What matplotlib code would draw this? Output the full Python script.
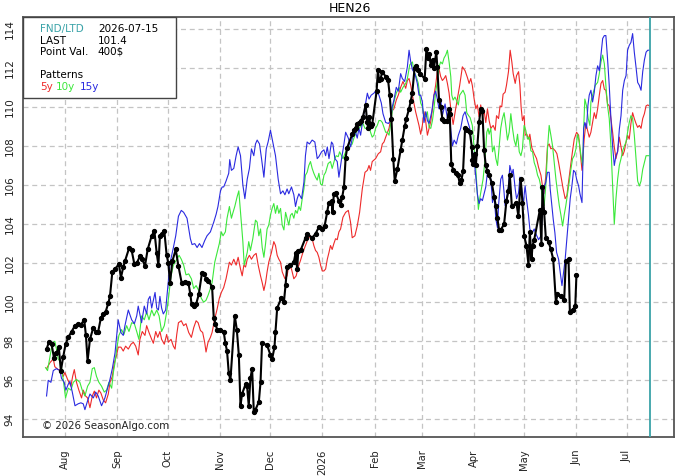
import matplotlib
matplotlib.use("Agg")
import matplotlib.pyplot as plt
from matplotlib.patches import Rectangle
import pandas as pd

# ---------------- data ----------------
season_start = "2025-08-01"      # day 0 of the day offsets below
title = "HEN26"
fnd_ltd = "2026-07-15"
last_price = "101.4"
point_val = "400$"
y_ticks = [94, 96, 98, 100, 102, 104, 106, 108, 110, 112, 114]
month_ticks = ["2025-08-01", "2025-09-01", "2025-10-01", "2025-11-01", "2025-12-01",
               "2026-01-01", "2026-02-01", "2026-03-01", "2026-04-01", "2026-05-01",
               "2026-06-01", "2026-07-01"]
month_labels = ["Aug", "Sep", "Oct", "Nov", "Dec", "2026", "Feb", "Mar", "Apr",
                "May", "Jun", "Jul"]
x_range = ["2025-07-07", "2026-07-29"]
y_range = [93.1, 114.6]

# current contract (day offset, price)
current = [
    (-11.0, 97.6), (-9.6, 97.95), (-8.0, 97.85), (-6.6, 97.15), (-5.1, 97.4), (-3.7, 97.7),
    (-2.5, 96.5), (-1.1, 97.2), (0.3, 97.85), (1.9, 98.2), (3.9, 98.5), (5.9, 98.8),
    (7.8, 98.9), (9.4, 98.85), (11.4, 99.1), (12.4, 98.3), (13.4, 97.0), (14.8, 98.1),
    (16.8, 98.7), (18.2, 98.5), (19.7, 98.5), (21.3, 99.2), (22.7, 99.4), (24.1, 99.5),
    (25.7, 99.95), (26.7, 100.3), (28.1, 101.55), (29.7, 101.7), (32.0, 101.95), (33.2, 101.25),
    (34.6, 101.8), (35.6, 102.1), (38.0, 102.75), (39.6, 102.65), (41.2, 101.95), (42.6, 102.0),
    (44.5, 102.35), (45.9, 102.2), (47.5, 101.85), (49.1, 102.7), (51.5, 103.4), (53.1, 103.65),
    (54.5, 102.5), (55.5, 101.9), (56.4, 103.4), (57.8, 103.5), (59.0, 103.65), (60.4, 102.4),
    (61.4, 102.0), (62.4, 101.0), (63.8, 102.1), (65.8, 102.7), (67.4, 101.85), (69.3, 101.0),
    (71.3, 101.05), (73.3, 101.0), (74.5, 100.4), (75.2, 99.9), (76.5, 99.8), (77.9, 99.9),
    (79.5, 100.4), (81.4, 101.5), (82.8, 101.45), (83.8, 101.2), (85.0, 101.1), (87.4, 100.8),
    (88.4, 99.2), (89.4, 98.9), (90.4, 98.6), (92.4, 98.6), (94.3, 98.5), (95.3, 97.9),
    (96.3, 97.5), (97.3, 96.4), (98.3, 96.0), (100.9, 99.3), (102.1, 98.6), (103.3, 97.3),
    (104.3, 94.7), (105.2, 95.3), (107.3, 95.8), (108.2, 95.7), (109.2, 94.7), (110.2, 96.1),
    (111.2, 96.6), (112.2, 94.4), (113.2, 94.5), (115.2, 94.9), (116.2, 95.9), (117.1, 97.9),
    (120.1, 97.8), (122.1, 97.3), (123.1, 97.1), (124.5, 97.7), (125.1, 98.5), (126.1, 99.7),
    (128.5, 100.2), (130.1, 100.0), (131.1, 100.9), (132.0, 101.8), (134.0, 101.9), (136.0, 102.05),
    (137.0, 102.5), (138.0, 101.7), (138.6, 102.6), (140.0, 102.65), (143.0, 103.3), (143.9, 103.5),
    (146.9, 103.3), (148.9, 103.5), (150.9, 103.85), (152.9, 103.75), (154.3, 103.9), (155.8, 104.6),
    (156.8, 105.1), (158.4, 105.2), (159.0, 104.6), (159.8, 105.55), (160.8, 105.6), (162.8, 105.2),
    (163.8, 105.0), (164.8, 105.4), (165.8, 105.9), (166.8, 107.4), (167.7, 107.9), (170.7, 108.6),
    (171.7, 108.8), (172.7, 108.9), (173.7, 109.1), (174.7, 109.15), (175.7, 109.3), (177.1, 109.5),
    (178.7, 110.1), (179.6, 109.2), (180.2, 108.9), (180.7, 109.5), (181.7, 109.0), (182.6, 109.1),
    (185.2, 110.8), (186.0, 111.9), (186.6, 111.4), (187.6, 111.45), (188.6, 111.8), (190.6, 111.55),
    (192.0, 111.4), (193.0, 110.6), (194.0, 109.4), (195.1, 107.35), (196.0, 106.2), (197.5, 106.8),
    (199.5, 107.8), (200.5, 108.3), (201.9, 109.0), (202.9, 109.4), (204.5, 109.9), (205.5, 110.3),
    (206.4, 110.7), (207.8, 112.0), (208.8, 112.1), (209.8, 111.9), (211.0, 111.7), (213.8, 111.45),
    (214.8, 112.95), (215.8, 112.5), (216.4, 112.7), (217.4, 112.15), (218.8, 112.4), (219.3, 112.0),
    (220.7, 112.8), (221.3, 112.05), (222.3, 110.35), (223.3, 110.0), (224.3, 109.4), (225.3, 109.3),
    (227.3, 109.3), (228.3, 109.9), (228.7, 109.65), (229.6, 107.1), (230.8, 106.75), (232.3, 106.6),
    (233.6, 106.5), (234.6, 106.1), (235.6, 106.25), (236.6, 106.7), (237.8, 108.9), (239.2, 108.8),
    (240.6, 108.7), (241.8, 107.95), (242.1, 107.3), (242.7, 107.1), (243.5, 107.6), (244.2, 107.0),
    (245.1, 108.0), (246.1, 109.2), (247.1, 109.9), (248.1, 109.8), (249.1, 107.8), (250.1, 107.0),
    (251.1, 106.7), (252.1, 106.5), (253.7, 106.1), (255.1, 105.4), (256.1, 104.9), (257.0, 104.3),
    (258.0, 103.7), (259.0, 103.7), (261.0, 104.0), (262.4, 105.2), (263.6, 105.7), (264.4, 106.5),
    (265.6, 104.9), (268.3, 105.1), (269.5, 104.4), (270.9, 106.3), (271.9, 105.1), (272.9, 103.4),
    (274.3, 102.9), (275.5, 101.9), (276.3, 103.6), (277.3, 102.2), (277.9, 102.9), (278.9, 103.2),
    (282.2, 104.7), (283.2, 103.0), (283.8, 105.9), (284.8, 104.6), (285.8, 103.3), (287.4, 103.1),
    (288.8, 102.7), (290.2, 102.2), (291.8, 100.0), (292.7, 100.4), (294.8, 100.3), (296.7, 100.1),
    (297.7, 102.1), (299.3, 102.2), (300.1, 99.5), (301.7, 99.6), (303.3, 99.8), (304.0, 101.4),
]

# 5-year seasonal pattern
pattern_5y = [
    (-11.0, 96.6), (-9.0, 96.9), (-7.0, 97.1), (-6.1, 96.7), (-4.1, 96.55), (-2.5, 96.55),
    (-1.1, 96.2), (-0.1, 96.4), (1.5, 96.05), (3.5, 95.7), (4.5, 96.2), (5.5, 96.55),
    (6.8, 95.9), (8.2, 95.5), (9.8, 95.1), (10.8, 95.5), (12.2, 95.2), (13.4, 95.1),
    (14.8, 94.6), (16.2, 95.2), (17.4, 95.45), (18.7, 95.1), (20.1, 95.5), (21.3, 95.35),
    (22.7, 95.0), (24.1, 94.85), (25.7, 95.3), (26.7, 95.9), (28.1, 96.2), (29.3, 96.9),
    (30.7, 97.3), (31.6, 97.7), (33.2, 97.7), (34.6, 97.5), (36.0, 97.75), (37.6, 97.6),
    (39.2, 97.85), (40.6, 97.95), (42.0, 97.75), (43.5, 97.3), (44.5, 98.1), (45.9, 98.5),
    (47.5, 98.3), (48.5, 98.8), (49.9, 98.45), (51.5, 98.1), (52.5, 97.9), (53.9, 98.5),
    (55.1, 98.2), (56.4, 98.5), (57.4, 98.1), (59.0, 97.85), (60.4, 98.35), (61.4, 97.95),
    (63.0, 98.1), (64.4, 97.75), (65.4, 97.6), (66.4, 98.35), (67.4, 98.95), (69.1, 99.05),
    (70.5, 98.8), (71.9, 98.9), (73.5, 98.45), (75.1, 98.2), (76.5, 98.7), (77.9, 99.05),
    (79.1, 98.95), (80.5, 98.55), (81.8, 98.45), (83.0, 97.95), (83.8, 97.45), (85.0, 97.95),
    (86.4, 98.2), (87.4, 98.45), (89.0, 99.15), (90.4, 99.65), (91.7, 100.2), (92.9, 100.5),
    (94.3, 100.75), (95.7, 101.2), (96.9, 101.7), (97.7, 102.05), (98.9, 101.9), (100.3, 102.2),
    (101.7, 101.9), (102.9, 102.3), (104.3, 101.7), (105.3, 101.35), (106.3, 101.9), (107.3, 101.8),
    (108.3, 102.2), (109.6, 102.4), (110.8, 102.2), (112.2, 102.4), (113.6, 102.5), (114.8, 101.9),
    (116.2, 101.35), (117.2, 101.0), (118.2, 100.6), (119.2, 101.0), (120.1, 101.55), (121.1, 102.05),
    (122.7, 102.55), (124.1, 103.1), (125.1, 102.9), (126.1, 102.4), (127.1, 102.2), (128.1, 102.05),
    (129.1, 101.55), (130.7, 101.2), (132.0, 101.35), (133.0, 101.9), (134.6, 101.7), (136.0, 101.2),
    (137.4, 101.35), (138.6, 101.8), (140.0, 102.15), (141.4, 102.55), (142.9, 102.9), (144.5, 103.25),
    (145.9, 103.4), (146.9, 103.25), (147.9, 102.9), (148.9, 102.65), (149.9, 102.55), (150.9, 102.3),
    (151.9, 101.9), (152.9, 101.6), (153.9, 101.6), (154.9, 101.7), (155.9, 102.2), (156.9, 102.55),
    (157.8, 102.9), (158.8, 102.7), (159.8, 103.0), (160.8, 103.25), (161.8, 103.2), (162.8, 103.6),
    (163.8, 103.75), (165.2, 104.35), (166.8, 104.6), (168.4, 104.7), (169.7, 104.1), (170.7, 103.3),
    (172.3, 103.4), (173.7, 103.9), (175.1, 104.6), (176.7, 105.8), (178.3, 106.65), (179.7, 106.75),
    (180.7, 107.0), (181.6, 106.75), (182.6, 107.2), (184.6, 107.35), (186.2, 107.6), (187.6, 107.7),
    (188.6, 108.1), (189.6, 108.2), (190.6, 108.45), (192.6, 108.9), (193.6, 109.4), (194.5, 109.8),
    (195.5, 109.9), (196.9, 110.35), (198.1, 110.6), (199.5, 111.0), (200.9, 111.3), (202.5, 110.95),
    (203.5, 111.35), (204.5, 111.45), (205.5, 111.1), (206.9, 110.4), (208.4, 109.75), (209.4, 109.4),
    (210.4, 109.05), (211.4, 108.6), (212.4, 109.05), (213.4, 109.75), (214.4, 109.25), (215.4, 108.55),
    (216.4, 108.9), (217.4, 109.25), (218.4, 109.9), (219.3, 110.6), (220.3, 111.1), (221.3, 111.8),
    (222.3, 111.95), (223.3, 111.55), (224.3, 111.35), (225.3, 111.45), (226.3, 111.6), (227.3, 111.2),
    (228.3, 110.7), (229.3, 109.9), (230.7, 109.1), (232.0, 109.8), (233.2, 110.4), (234.6, 111.1),
    (236.2, 112.05), (237.8, 111.85), (239.2, 111.5), (240.2, 111.2), (241.2, 111.45), (242.1, 111.1),
    (243.2, 110.4), (244.2, 109.9), (245.1, 110.1), (246.1, 109.5), (247.1, 110.1), (248.1, 109.55),
    (249.1, 109.8), (250.1, 109.2), (251.1, 109.9), (252.1, 109.3), (253.1, 108.9), (254.5, 109.05),
    (255.7, 108.8), (256.5, 109.55), (257.7, 109.4), (258.6, 110.05), (259.6, 110.0), (260.4, 110.65),
    (261.6, 110.75), (262.4, 111.1), (263.6, 111.8), (264.6, 112.9), (265.6, 112.3), (266.4, 111.7),
    (267.6, 111.2), (268.4, 111.6), (269.6, 111.8), (270.4, 111.1), (271.1, 110.0), (271.9, 109.3),
    (272.9, 109.55), (273.5, 108.55), (274.5, 108.6), (275.5, 108.35), (276.3, 108.6), (277.5, 107.9),
    (278.9, 107.6), (280.3, 107.35), (281.5, 106.9), (282.9, 106.5), (283.8, 105.95), (284.8, 105.55),
    (285.8, 106.5), (286.8, 108.0), (287.8, 108.1), (288.8, 107.85), (289.8, 107.9), (291.4, 107.75),
    (292.4, 107.6), (293.4, 107.15), (294.4, 106.65), (295.4, 106.15), (296.1, 105.8), (297.3, 105.3),
    (298.3, 105.45), (299.3, 106.15), (300.7, 107.1), (301.7, 107.75), (302.7, 108.35), (304.1, 108.7),
    (305.3, 108.55), (306.1, 107.85), (307.3, 106.75), (308.1, 107.75), (308.6, 108.35), (309.6, 109.15),
    (310.6, 108.8), (311.6, 108.45), (312.6, 108.7), (313.6, 109.2), (314.6, 109.7), (315.6, 109.4),
    (316.6, 109.9), (317.6, 110.6), (318.6, 111.2), (319.6, 111.35), (320.6, 110.9), (321.5, 110.85),
    (322.5, 110.15), (323.5, 110.05), (324.5, 109.4), (325.5, 108.7), (326.5, 107.95), (327.5, 107.35),
    (328.5, 107.75), (329.5, 108.45), (330.5, 107.95), (331.5, 107.5), (332.5, 107.75), (333.5, 108.2),
    (334.4, 108.55), (335.4, 108.35), (336.4, 109.15), (337.4, 109.7), (338.4, 109.4), (339.4, 109.15),
    (340.4, 108.95), (341.4, 109.05), (342.4, 108.9), (343.4, 109.4), (344.4, 109.65), (345.4, 110.05),
    (346.4, 110.1), (347.3, 110.05),
]

# 10-year seasonal pattern
pattern_10y = [
    (-11.6, 96.65), (-10.4, 96.5), (-9.0, 97.2), (-8.0, 97.7), (-7.0, 97.95), (-6.1, 98.0),
    (-5.1, 97.6), (-4.1, 97.1), (-2.5, 96.9), (-1.1, 96.05), (0.3, 95.1), (1.9, 95.6),
    (3.5, 95.5), (4.9, 95.9), (6.8, 96.05), (8.8, 95.9), (10.2, 95.5), (11.8, 95.2),
    (13.4, 95.7), (14.8, 95.9), (16.2, 96.6), (17.4, 96.65), (18.7, 96.2), (20.1, 95.9),
    (21.7, 95.7), (23.3, 95.4), (24.7, 95.5), (26.1, 95.9), (27.7, 95.6), (28.7, 96.4),
    (29.7, 96.9), (30.7, 97.6), (32.0, 98.3), (33.6, 98.6), (35.0, 98.35), (36.6, 98.8),
    (38.0, 98.5), (39.6, 98.95), (41.2, 98.9), (42.6, 98.5), (43.9, 98.1), (45.5, 99.3),
    (47.1, 99.1), (48.5, 99.5), (49.9, 99.1), (51.5, 99.6), (52.9, 99.3), (54.5, 99.6),
    (55.9, 99.3), (57.4, 98.5), (59.0, 98.8), (60.4, 99.5), (61.4, 100.15), (63.0, 101.35),
    (64.4, 101.9), (66.4, 102.2), (67.8, 102.4), (69.1, 102.2), (70.5, 101.9), (71.9, 101.4),
    (73.5, 101.45), (75.1, 101.2), (76.5, 100.7), (77.9, 100.85), (79.5, 100.6), (81.0, 100.2),
    (82.4, 100.0), (83.8, 100.1), (85.0, 100.35), (86.4, 100.7), (87.4, 101.0), (89.0, 102.05),
    (90.4, 102.55), (91.7, 103.0), (92.9, 103.6), (93.9, 103.4), (95.3, 103.6), (96.3, 104.3),
    (97.7, 104.9), (98.9, 104.3), (99.7, 104.55), (100.9, 104.9), (102.3, 105.4), (103.3, 105.7),
    (104.3, 104.6), (105.7, 103.1), (106.5, 101.9), (107.3, 102.2), (108.3, 102.55), (109.2, 103.1),
    (110.2, 102.65), (111.6, 103.25), (113.2, 104.2), (114.2, 104.1), (115.2, 103.4), (116.2, 103.75),
    (117.2, 102.8), (118.2, 102.3), (119.2, 103.0), (120.1, 103.75), (121.1, 103.95), (122.1, 104.45),
    (123.1, 104.8), (124.1, 105.05), (125.1, 104.55), (126.1, 104.95), (127.1, 104.55), (128.1, 104.8),
    (129.1, 103.95), (130.1, 103.7), (131.1, 104.6), (132.0, 104.3), (133.0, 103.95), (134.0, 104.45),
    (135.0, 104.55), (136.0, 104.3), (137.0, 104.7), (138.0, 104.55), (139.0, 104.9), (140.0, 104.7),
    (141.0, 105.3), (142.0, 105.8), (142.9, 106.5), (143.9, 106.65), (144.9, 107.0), (145.9, 107.2),
    (146.9, 106.85), (147.9, 106.6), (148.9, 106.4), (149.9, 106.25), (150.9, 106.6), (151.9, 106.05),
    (152.9, 106.0), (153.9, 106.5), (154.9, 106.65), (156.4, 107.1), (157.8, 107.2), (158.8, 106.85),
    (160.4, 107.35), (161.2, 107.5), (162.4, 107.45), (163.2, 107.7), (165.2, 107.35), (166.8, 107.7),
    (167.8, 107.85), (169.1, 107.95), (170.7, 108.1), (171.7, 108.4), (173.1, 108.7), (174.7, 108.9),
    (176.3, 109.05), (177.1, 109.15), (178.3, 108.9), (179.7, 108.9), (180.7, 109.0), (181.6, 108.7),
    (182.6, 108.45), (183.6, 108.55), (184.6, 108.9), (185.6, 109.05), (186.6, 109.3), (187.6, 109.3),
    (188.6, 109.2), (189.6, 108.95), (190.6, 108.7), (191.6, 108.7), (192.6, 108.55), (193.6, 109.15),
    (194.5, 109.75), (195.5, 110.25), (196.9, 110.7), (198.5, 111.0), (199.5, 110.75), (200.9, 111.0),
    (202.5, 111.2), (203.5, 111.45), (204.9, 112.15), (206.5, 112.3), (207.4, 111.8), (208.8, 111.55),
    (210.0, 111.2), (211.4, 110.2), (212.4, 110.0), (213.4, 109.5), (214.4, 109.5), (215.4, 109.75),
    (216.4, 108.95), (217.4, 108.9), (218.4, 109.3), (219.3, 109.9), (220.3, 110.75), (221.3, 111.3),
    (222.3, 112.05), (223.3, 112.3), (224.3, 112.2), (225.3, 112.5), (226.3, 112.65), (227.3, 112.9),
    (228.3, 112.3), (229.3, 111.55), (229.9, 110.6), (230.7, 110.35), (231.8, 110.5), (232.6, 110.35),
    (233.8, 110.1), (234.6, 110.6), (235.8, 110.75), (236.6, 110.85), (237.8, 110.6), (238.8, 109.7),
    (239.9, 109.55), (240.8, 109.45), (242.1, 109.05), (243.2, 107.85), (244.2, 106.8), (245.1, 105.6),
    (245.7, 104.75), (246.5, 105.3), (248.5, 106.3), (249.7, 107.35), (250.7, 108.7), (251.5, 108.9),
    (252.1, 108.6), (253.1, 108.9), (254.1, 107.7), (255.1, 108.0), (256.1, 107.35), (257.1, 107.0),
    (258.1, 108.0), (259.0, 108.9), (260.0, 109.4), (261.0, 109.7), (262.0, 109.05), (263.0, 108.3),
    (264.0, 108.7), (265.0, 109.65), (266.0, 108.9), (267.0, 108.3), (268.0, 108.0), (269.0, 108.6),
    (270.0, 107.7), (271.0, 107.5), (271.9, 107.85), (272.9, 109.05), (273.9, 108.8), (274.9, 108.35),
    (275.9, 108.45), (276.9, 107.75), (277.9, 107.7), (278.9, 107.15), (279.9, 106.9), (280.9, 106.5),
    (281.9, 106.3), (282.9, 105.9), (283.8, 105.3), (284.8, 104.95), (285.8, 105.95), (286.8, 107.85),
    (287.8, 109.05), (288.8, 108.55), (289.8, 108.0), (290.8, 107.15), (291.8, 106.3), (292.8, 105.6),
    (293.8, 104.95), (294.8, 104.45), (295.8, 103.9), (296.7, 104.45), (297.7, 104.95), (299.7, 106.15),
    (300.7, 106.8), (301.7, 107.35), (302.7, 107.5), (303.7, 107.85), (304.7, 108.6), (305.7, 108.2),
    (306.7, 107.5), (307.7, 107.0), (308.3, 108.9), (309.0, 110.4), (310.0, 110.05), (311.0, 109.4),
    (312.0, 109.05), (312.6, 110.25), (313.6, 110.6), (315.2, 111.1), (316.6, 111.25), (317.6, 111.7),
    (318.6, 112.3), (319.6, 112.65), (320.6, 112.2), (321.5, 111.1), (322.5, 110.05), (323.5, 109.4),
    (324.5, 108.0), (325.5, 105.95), (326.5, 104.0), (327.5, 105.3), (328.5, 106.3), (329.5, 107.0),
    (330.5, 107.35), (331.5, 107.75), (332.5, 108.0), (333.5, 108.2), (334.4, 108.7), (335.4, 109.2),
    (336.4, 109.55), (337.4, 109.4), (338.4, 108.55), (339.4, 107.35), (340.4, 106.2), (341.4, 105.95),
    (342.4, 106.2), (343.4, 106.8), (344.4, 107.15), (345.4, 107.5), (346.4, 107.5), (347.3, 107.5),
]

# 15-year seasonal pattern
pattern_15y = [
    (-11.0, 95.2), (-10.0, 96.0), (-8.4, 95.9), (-7.0, 96.5), (-5.1, 96.6), (-3.1, 96.5),
    (-2.1, 96.1), (-0.5, 95.9), (0.5, 95.5), (1.9, 95.8), (2.9, 95.95), (4.3, 95.4),
    (5.9, 94.7), (7.8, 94.8), (9.4, 94.85), (10.8, 94.8), (11.8, 94.5), (13.2, 94.9),
    (14.8, 95.3), (16.8, 95.1), (18.2, 95.4), (19.7, 95.2), (21.7, 94.7), (23.7, 95.1),
    (25.3, 95.6), (26.7, 96.05), (28.1, 96.6), (29.7, 97.4), (31.6, 99.1), (33.2, 98.45),
    (34.6, 98.3), (35.6, 98.8), (37.6, 99.6), (39.6, 99.1), (41.2, 98.9), (42.6, 99.3),
    (43.5, 99.8), (45.5, 98.95), (47.1, 99.8), (48.5, 99.4), (49.5, 100.15), (50.5, 100.3),
    (51.5, 99.7), (52.5, 100.1), (53.5, 100.5), (54.5, 99.7), (55.5, 99.6), (56.4, 100.3),
    (57.4, 99.7), (58.4, 99.4), (59.8, 99.6), (61.0, 100.7), (62.4, 102.0), (64.4, 102.8),
    (65.8, 103.4), (67.4, 104.4), (69.1, 104.7), (70.5, 104.6), (72.5, 104.3), (74.5, 103.25),
    (75.5, 102.95), (77.1, 103.0), (78.5, 102.8), (79.9, 103.0), (81.4, 102.8), (83.0, 103.15),
    (84.4, 103.4), (86.4, 103.6), (88.4, 104.1), (89.8, 104.5), (90.9, 104.9), (92.4, 105.7),
    (93.4, 105.9), (94.3, 105.9), (95.7, 106.2), (97.3, 106.6), (97.9, 107.3), (98.9, 106.75),
    (100.3, 106.85), (101.7, 107.5), (102.9, 107.95), (104.3, 107.5), (105.7, 106.0), (106.9, 105.3),
    (108.3, 106.3), (109.6, 106.85), (110.8, 107.85), (112.2, 107.5), (113.2, 108.1), (114.2, 108.3),
    (115.6, 108.1), (116.8, 107.35), (118.2, 106.4), (119.6, 107.85), (120.7, 108.2), (122.1, 108.8),
    (123.5, 108.2), (125.1, 107.5), (126.7, 106.3), (128.1, 105.55), (129.5, 105.7), (130.7, 105.5),
    (132.0, 105.8), (133.0, 105.55), (134.6, 105.9), (136.0, 105.5), (137.0, 104.9), (138.0, 105.3),
    (139.0, 105.55), (140.6, 105.3), (142.0, 106.15), (142.9, 107.5), (143.9, 108.2), (145.3, 108.1),
    (146.9, 108.3), (148.5, 108.2), (149.9, 107.35), (150.9, 107.45), (152.5, 107.7), (153.9, 107.8),
    (154.9, 107.5), (155.9, 107.95), (156.9, 107.35), (158.4, 108.2), (159.2, 108.1), (160.4, 107.35),
    (161.8, 107.2), (162.8, 106.4), (164.4, 107.35), (165.8, 108.1), (166.8, 108.7), (168.4, 108.4),
    (169.7, 107.95), (171.1, 108.55), (172.7, 108.7), (173.7, 108.4), (174.7, 108.9), (175.7, 108.55),
    (177.1, 109.4), (178.3, 110.0), (179.7, 110.7), (180.7, 110.4), (182.0, 110.6), (183.6, 110.7),
    (185.0, 110.85), (186.6, 110.6), (188.0, 110.2), (189.0, 109.65), (190.6, 109.2), (192.2, 109.15),
    (193.6, 109.3), (194.5, 110.0), (195.5, 110.35), (196.9, 111.0), (198.1, 110.8), (199.5, 111.7),
    (200.5, 111.45), (201.9, 111.3), (203.5, 112.05), (204.5, 112.9), (205.5, 112.3), (206.5, 111.9),
    (208.0, 111.7), (209.4, 111.2), (210.4, 110.6), (211.4, 110.6), (212.4, 110.25), (213.4, 109.2),
    (214.4, 109.75), (215.4, 109.3), (216.4, 109.15), (218.0, 109.75), (219.3, 110.6), (220.3, 110.8),
    (221.3, 110.4), (222.3, 109.9), (223.3, 110.4), (224.3, 109.55), (225.9, 110.15), (227.3, 109.4),
    (228.3, 109.85), (229.3, 108.8), (230.3, 108.0), (231.3, 108.3), (232.6, 108.1), (233.8, 108.55),
    (235.2, 108.9), (236.6, 109.55), (237.8, 109.75), (239.2, 109.3), (240.6, 108.9), (241.8, 107.95),
    (243.2, 107.25), (244.1, 106.5), (245.1, 105.55), (246.1, 105.05), (247.1, 105.3), (248.1, 105.2),
    (250.1, 105.9), (251.1, 106.65), (252.1, 106.6), (253.1, 106.3), (254.1, 105.1), (255.1, 105.45),
    (256.1, 104.25), (257.1, 103.8), (257.7, 104.95), (259.0, 106.3), (260.0, 106.5), (261.0, 105.6),
    (261.6, 104.95), (262.4, 105.3), (263.6, 105.95), (264.4, 107.0), (265.6, 106.55), (266.4, 106.8),
    (267.6, 105.8), (268.4, 105.3), (269.6, 105.6), (270.4, 106.4), (271.5, 105.8), (272.3, 105.0),
    (273.5, 105.95), (274.3, 105.3), (275.5, 104.45), (276.3, 103.75), (277.5, 103.5), (278.9, 103.75),
    (279.9, 103.5), (281.5, 103.2), (282.9, 103.4), (283.8, 104.6), (284.8, 105.9), (285.8, 106.15),
    (286.8, 106.65), (287.8, 106.65), (288.4, 105.8), (289.4, 104.95), (290.2, 104.25), (291.2, 103.55),
    (292.2, 102.55), (293.4, 102.2), (294.4, 101.5), (295.4, 100.85), (296.1, 101.35), (297.3, 102.2),
    (298.3, 103.25), (299.3, 104.25), (300.3, 105.3), (301.3, 105.95), (302.3, 106.75), (303.3, 106.65),
    (304.1, 106.3), (305.3, 105.95), (306.1, 105.55), (307.3, 105.1), (308.3, 108.9), (309.0, 109.2),
    (310.0, 108.9), (310.8, 110.05), (311.6, 110.6), (312.6, 110.85), (313.6, 110.25), (314.6, 110.75),
    (315.6, 111.6), (316.6, 112.1), (317.6, 111.85), (318.6, 112.7), (319.6, 113.5), (320.6, 113.65),
    (321.5, 113.65), (322.5, 112.45), (323.5, 111.1), (324.5, 109.4), (325.5, 108.0), (326.5, 107.0),
    (327.5, 107.5), (328.5, 107.7), (329.5, 108.85), (330.5, 109.55), (331.5, 110.85), (332.5, 111.35),
    (333.5, 111.6), (334.4, 112.9), (335.4, 113.15), (336.4, 113.3), (337.4, 113.75), (338.4, 112.8),
    (339.4, 112.05), (340.4, 111.25), (341.4, 111.1), (342.4, 110.85), (343.4, 111.8), (344.4, 112.4),
    (345.4, 112.8), (346.4, 112.9), (347.3, 112.9),
]

# ---------------- helpers ----------------
start = pd.Timestamp(season_start)


def to_series(pairs):
    days = [p[0] for p in pairs]
    vals = [p[1] for p in pairs]
    dates = start + pd.to_timedelta(days, unit="D")
    return dates, vals


RED = "#ee2a2a"
GREEN = "#3be83b"
BLUE = "#2a2ae0"
TEAL = "#3aa3a8"

plt.rcParams["font.family"] = ["DejaVu Sans"]

fig = plt.figure(figsize=(6.8, 4.76), dpi=100)
ax = fig.add_axes([23 / 680, 39 / 476, 651 / 680, 420 / 476])

ax.grid(True, color="#c4c4c4", linestyle=(0, (4, 3)), linewidth=0.9)
ax.set_axisbelow(True)

for pairs, col in [(pattern_5y, RED), (pattern_10y, GREEN), (pattern_15y, BLUE)]:
    d, v = to_series(pairs)
    ax.plot(d, v, color=col, linewidth=0.8, zorder=2)

d, v = to_series(current)
ax.plot(d, v, color="black", linewidth=1.5, marker="o", markersize=2.8, zorder=4)

ax.axvline(pd.Timestamp(fnd_ltd), color=TEAL, linewidth=1.3, zorder=3)

ax.set_xlim(pd.Timestamp(x_range[0]), pd.Timestamp(x_range[1]))
ax.set_ylim(*y_range)
ax.set_yticks(y_ticks)
ax.set_yticklabels([str(t) for t in y_ticks], rotation=90, va="center", fontsize=7.5)
ax.set_xticks([pd.Timestamp(m) for m in month_ticks])
ax.set_xticklabels(month_labels, rotation=90, fontsize=7.2)
ax.tick_params(axis="both", length=0, colors="#222222")
ax.tick_params(axis="x", pad=9)
ax.tick_params(axis="y", pad=6)

for sp in ax.spines.values():
    sp.set_color("#555555")
    sp.set_linewidth(1.3)

fig.text(350 / 680, 1 - 9 / 476, title, ha="center", va="center", fontsize=9)

# info box
box = Rectangle((0, 0.807), 0.235, 0.193, transform=ax.transAxes, facecolor="white",
                edgecolor="#444444", linewidth=1.0, zorder=6)
ax.add_patch(box)
fs = 7.5
rows = [0.971, 0.944, 0.917]
ax.text(0.026, rows[0], "FND/LTD", color=TEAL, fontsize=fs, transform=ax.transAxes, va="center", zorder=7)
ax.text(0.115, rows[0], fnd_ltd, color="black", fontsize=fs, transform=ax.transAxes, va="center", zorder=7)
ax.text(0.026, rows[1], "LAST", color="black", fontsize=fs, transform=ax.transAxes, va="center", zorder=7)
ax.text(0.115, rows[1], last_price, color="black", fontsize=fs, transform=ax.transAxes, va="center", zorder=7)
ax.text(0.026, rows[2], "Point Val.", color="black", fontsize=fs, transform=ax.transAxes, va="center", zorder=7)
ax.text(0.115, rows[2], point_val, color="black", fontsize=fs, transform=ax.transAxes, va="center", zorder=7)
ax.text(0.026, 0.862, "Patterns", color="black", fontsize=fs, transform=ax.transAxes, va="center", zorder=7)
ax.text(0.026, 0.833, "5y", color=RED, fontsize=fs, transform=ax.transAxes, va="center", zorder=7)
ax.text(0.0507, 0.833, "10y", color=GREEN, fontsize=fs, transform=ax.transAxes, va="center", zorder=7)
ax.text(0.0876, 0.833, "15y", color=BLUE, fontsize=fs, transform=ax.transAxes, va="center", zorder=7)

ax.text(0.029, 0.026, "© 2026 SeasonAlgo.com", color="#222222", fontsize=7.4,
        transform=ax.transAxes, va="center", zorder=7)

fig.savefig("out.png", dpi=100)
